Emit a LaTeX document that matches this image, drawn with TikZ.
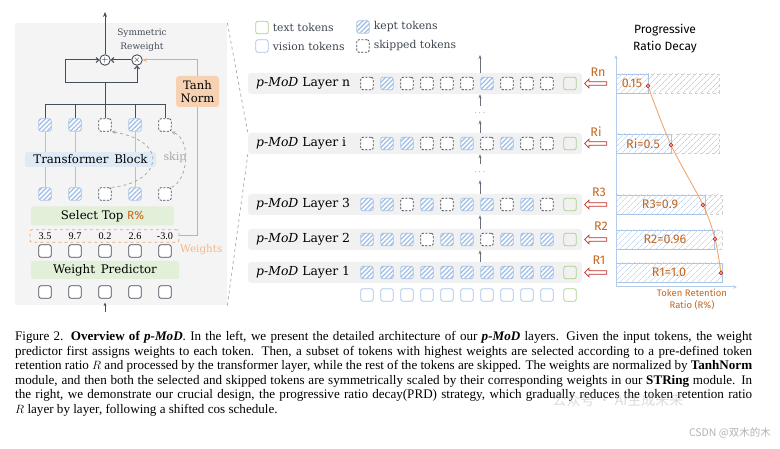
\documentclass[tikz,border=0pt]{standalone}
\usepackage{fontspec}
\setmainfont{Liberation Serif}
\newfontfamily\dfont{DejaVu Serif}
\newfontfamily\cfont{Fira Sans}
\newfontfamily\cjkfont{Noto Sans CJK SC}
\usetikzlibrary{arrows.meta,patterns.meta,shapes.arrows,calc}
\definecolor{panelbg}{HTML}{F4F4F4}
\definecolor{rowbg}{HTML}{F1F1F1}
\definecolor{dark}{HTML}{454C5A}
\definecolor{tokblue}{HTML}{A7C4E8}
\definecolor{hatchblue}{HTML}{9DBDE6}
\definecolor{hatchlight}{HTML}{C9DAF0}
\definecolor{tokgreen}{HTML}{A9D18E}
\definecolor{boxgreen}{HTML}{E2EFD9}
\definecolor{boxblue}{HTML}{DEEBF7}
\definecolor{tanhfill}{HTML}{F6D2B3}
\definecolor{orangeline}{HTML}{EFA66E}
\definecolor{orangelab}{HTML}{F2B98C}
\definecolor{orangetxt}{HTML}{C5661F}
\definecolor{redarr}{HTML}{C0302A}
\definecolor{grayhatch}{HTML}{CFCFCF}
\definecolor{skipgray}{HTML}{A8A8A8}
\definecolor{axisblue}{HTML}{B5CDEB}
\newcommand\tokrow[3]{%
  \foreach \t [count=\i] in {#3} {%
    \if\t k\node[tokk] (#1-\i) at ({347+20*\i},#2) {};%
    \else\if\t s\node[toks] (#1-\i) at ({347+20*\i},#2) {};%
    \else\node[tokv] (#1-\i) at ({347+20*\i},#2) {};\fi\fi}%
  \node[tokg] (#1-g) at (570,#2) {};}
\newcommand\capline[3]{\node[anchor=base west,inner sep=0,font=\fontsize{13.1}{14}\selectfont\rmfamily] (#1) at (15,#2) {#3};}
\begin{document}
\begin{tikzpicture}[x=1pt,y=-1pt,font=\dfont,
  tokbase/.style={minimum size=12.5pt,inner sep=0,rounded corners=2.2pt,line width=0.8pt},
  tokk/.style={tokbase,draw=tokblue,fill=white,postaction={pattern={Lines[angle=45,distance=3.3pt,line width=1.2pt]},pattern color=hatchblue}},
  toks/.style={tokbase,draw=dark,dash pattern=on 2.2pt off 1.4pt,fill=white},
  tokp/.style={tokbase,draw=dark,fill=white},
  tokv/.style={tokbase,draw=tokblue,fill=white},
  tokg/.style={tokbase,draw=tokgreen},
  rowbox/.style={fill=rowbg,rounded corners=3pt,minimum width=334pt,minimum height=21pt,inner sep=0},
  rowlab/.style={anchor=west,inner sep=0,font=\dfont\fontsize{12.4}{14}\selectfont,text=black},
  dline/.style={draw=dark,line width=1pt},
  barb/.style={-{Straight Barb[length=2.5pt,width=5pt]}},
  varr/.style={draw=dark!80,line width=0.7pt,-{Stealth[length=4pt,width=3pt]}},
  oline/.style={draw=orangeline,line width=1pt},
  skipl/.style={draw=skipgray,line width=0.8pt,dashed,-{Stealth[length=4pt,width=3.5pt]}},
  greenbox/.style={fill=boxgreen,rounded corners=2.5pt,inner sep=0},
  bbar/.style={draw=tokblue,line width=0.9pt,fill=white,postaction={pattern={Lines[angle=45,distance=4pt,line width=0.7pt]},pattern color=hatchlight}},
  gbar/.style={draw=grayhatch,line width=0.7pt,dashed,postaction={pattern={Lines[angle=45,distance=4pt,line width=0.7pt]},pattern color=grayhatch}},
  rlab/.style={text=orangetxt,font=\cfont\fontsize{12.5}{14}\selectfont,inner sep=0},
  harr/.style={single arrow,draw=redarr,fill=white,line width=0.8pt,shape border rotate=180,minimum height=22pt,inner sep=1.3pt,single arrow head extend=2.6pt},
  rdot/.style={circle,draw=redarr,fill=white,minimum size=3.6pt,inner sep=0,line width=0.9pt}]
\useasboundingbox (0,0) rectangle (780,449);
% ---------------- left panel ----------------
\node[fill=panelbg,minimum width=212pt,minimum height=282pt,inner sep=0,anchor=north west] (panel) at (15,23) {};
\node[circle,draw=dark,fill=white,line width=0.9pt,minimum size=10.5pt,inner sep=0,font=\fontsize{9}{9}\selectfont] (plus) at (105,60) {$+$};
\node[circle,draw=dark,fill=white,line width=0.9pt,minimum size=10.5pt,inner sep=0,font=\fontsize{9}{9}\selectfont] (times) at (137,60) {$\times$};
\coordinate (out) at (105,12);
\node[align=center,text=dark,font=\dfont\fontsize{9}{13.5}\selectfont] (symlab) at (142,40) {Symmetric\\Reweight};
\foreach \x/\s [count=\i] in {45/k,75/k,105/s,135/k,165/s}{
  \if\s k\node[tokk] (t\i) at (\x,125) {};\node[tokk] (m\i) at (\x,194) {};
  \else\node[toks] (t\i) at (\x,125) {};\node[toks] (m\i) at (\x,194) {};\fi
  \node[tokp] (p\i) at (\x,251) {};
  \node[tokp] (b\i) at (\x,292) {};}
% blue lines through transformer
\foreach \i in {1,2,4}{\draw[tokblue,line width=1pt] (t\i.south) -- (m\i.north);}
\node[fill=boxblue,rounded corners=2.5pt,inner sep=0,minimum width=131pt,minimum height=15pt,font=\dfont\fontsize{11.8}{12}\selectfont] (tb) at (90.5,159.5) {Transformer\, Block};
\node[text=skipgray,font=\dfont\fontsize{11}{12}\selectfont,inner sep=0] (skiplab) at (175,157) {skip};
\draw[skipl] (m3.north east) .. controls (160,183) and (172,142) .. (t3.south east);
\draw[skipl] (m5.north east) .. controls (188,180) and (192,140) .. (t5.south east);
% tree lines
\coordinate (bar) at (105,105);
\coordinate (split) at (105,83);
\coordinate (lc) at (65,83);
\draw[dline] (t1.north) -- (t1.north |- bar) -- (t5.north |- bar) -- (t5.north);
\foreach \i in {2,3,4}{\draw[dline] (t\i.north) -- (t\i.north |- bar);}
\draw[dline] (t3.north |- bar) -- (split);
\draw[dline,barb] (split) -- (lc) |- (plus.west);
\draw[dline,barb] (split) -| (times.south);
\draw[dline,barb] (times.west) -- (plus.east);
\draw[dline,-{Stealth[length=5pt,width=4pt]}] (plus.north) -- (out);
% select top, weights, predictor
\node[greenbox,minimum width=143pt,minimum height=19pt,font=\dfont\fontsize{11.8}{12}\selectfont] (sel) at (102.5,216) {Select Top {\cfont\color{orangetxt}R\%}};
\node[draw=orangeline,dashed,line width=0.8pt,rounded corners=2pt,minimum width=149pt,minimum height=12.5pt,inner sep=0] (wbox) at (104.5,236) {};
\foreach \x/\v [count=\i] in {45/3.5,75/9.7,105/0.2,135/2.6,165/-3.0}{
  \node[font=\rmfamily\fontsize{10.2}{10}\selectfont,inner sep=0] (w\i) at (\x,236) {\v};}
\node[anchor=west,text=orangelab,font=\dfont\fontsize{10.4}{11}\selectfont,inner sep=0] (wlab) at (180,249.5) {Weights};
\node[greenbox,minimum width=148pt,minimum height=18pt,font=\dfont\fontsize{11.8}{12}\selectfont] (wp) at (105,270) {Weight\, Predictor};
\coordinate (inp) at (105,312);
\draw[draw=dark,line width=0.8pt,-{Stealth[length=3.5pt,width=3pt]}] (inp) -- ($(b3.south)+(0,4)$);
% tanh norm
\node[fill=tanhfill,rounded corners=3pt,minimum width=43pt,minimum height=31pt,inner sep=0,align=center,font=\dfont\fontsize{11.6}{13}\selectfont] (tanh) at (197.5,91.5) {Tanh\\Norm};
\draw[oline] (wbox.east) -| (tanh.south);
\draw[oline,-{Stealth[length=4pt,width=3.5pt]}] (tanh.north) |- (times.east);
% ---------------- middle panel ----------------
\node[tokg] (lg1) at (262,27.5) {};
\node[tokv] (lg2) at (262,46) {};
\node[tokk] (lg3) at (363,27) {};
\node[toks] (lg4) at (363,46) {};
\foreach \n/\s/\txt in {lg1/1/text tokens,lg2/2/vision tokens,lg3/3/kept tokens,lg4/4/skipped tokens}{
  \node[anchor=west,inner sep=0,text=dark!90!black,font=\dfont\fontsize{10.8}{11}\selectfont] (lt\s) at ($(\n.east)+(4,0)$) {\txt};}
\node[rowbox] (Rn) at (415,83.5) {};
\node[rowbox] (Ri) at (415,143.5) {};
\node[rowbox] (R3) at (415,204.5) {};
\node[rowbox] (R2) at (415,239.5) {};
\node[rowbox] (R1) at (415,272.5) {};
\node[rowlab] (Ln) at (256,83.5) {\textit{p-MoD} Layer n};
\node[rowlab] (Li) at (256,143.5) {\textit{p-MoD} Layer i};
\node[rowlab] (L3) at (256,204.5) {\textit{p-MoD} Layer 3};
\node[rowlab] (L2) at (256,239.5) {\textit{p-MoD} Layer 2};
\node[rowlab] (L1) at (256,272.5) {\textit{p-MoD} Layer 1};
\tokrow{n}{83.5}{s,k,s,s,s,s,k,s,s,s}
\tokrow{i}{143.5}{s,k,k,s,s,k,s,k,s,s}
\tokrow{c}{204.5}{k,k,s,k,s,k,k,s,k,s}
\tokrow{b}{239.5}{k,k,k,s,k,k,s,k,k,k}
\tokrow{a}{272.5}{k,k,k,k,k,k,k,k,k,k}
\tokrow{z}{295}{v,v,v,v,v,v,v,v,v,v}
\coordinate (ax) at (480,0);
\coordinate (topout) at (480,55);
\node[inner sep=0,minimum height=14pt,font=\fontsize{9}{9}\selectfont,text=dark] (dots1) at (480,113) {$\cdots$};
\node[inner sep=0,minimum height=16pt,font=\fontsize{9}{9}\selectfont,text=dark] (dots2) at (480,172) {$\cdots$};
\draw[varr] (Rn.north -| ax) -- (topout);
\draw[varr] (dots1.north) -- (Rn.south -| ax);
\draw[varr] (Ri.north -| ax) -- (dots1.south);
\draw[varr] (dots2.north) -- (Ri.south -| ax);
\draw[varr] (R3.north -| ax) -- (dots2.south);
\draw[varr] (R2.north -| ax) -- (R3.south -| ax);
\draw[varr] (R1.north -| ax) -- (R2.south -| ax);
% dashed zoom lines
\draw[draw=skipgray,dashed,line width=0.7pt] (panel.north east) -- (Ri.north west);
\draw[draw=skipgray,dashed,line width=0.7pt] (panel.south east) -- (Ri.south west);
% ---------------- right panel ----------------
\node[align=center,font=\cfont\fontsize{12}{17}\selectfont] (title) at (665,38.5) {Progressive\\Ratio Decay};
\node[harr] (hn) at (596.5,83.5) {};
\node[harr] (hi) at (596.5,143.5) {};
\node[harr] (h3) at (596.5,204.5) {};
\node[harr] (h2) at (596.5,239.5) {};
\node[harr] (h1) at (596.5,272.5) {};
\node[rlab] (rln) at (598,72) {Rn};
\node[rlab] (rli) at (596,132) {Ri};
\node[rlab] (rl3) at (599,192) {R3};
\node[rlab] (rl2) at (601,226) {R2};
\node[rlab] (rl1) at (599,260) {R1};
\draw[gbar] (648,74) rectangle (719,93);
\draw[gbar] (671,134) rectangle (719,153);
\draw[gbar] (705,195) rectangle (722,214);
\draw[gbar] (714,230) rectangle (722,249);
\draw[bbar] (616,74) rectangle (648,93);
\draw[bbar] (616,134) rectangle (671,153);
\draw[bbar] (616,195) rectangle (705,214);
\draw[bbar] (616,230) rectangle (714,249);
\draw[bbar] (616,263) rectangle (722,282);
\draw[draw=axisblue,line width=1pt,-{Stealth[length=4pt,width=3.5pt]}] (616,287) -- (616,55);
\draw[draw=axisblue,line width=1pt,-{Stealth[length=4pt,width=3.5pt]}] (616,287) -- (737,287);
\node[rlab] (vn) at (632,83.5) {0.15};
\node[rlab] (vi) at (643,143.5) {Ri=0.5};
\node[rlab] (v3) at (660,204.5) {R3=0.9};
\node[rlab] (v2) at (665,239.5) {R2=0.96};
\node[rlab] (v1) at (669,272.5) {R1=1.0};
\draw[orangeline,line width=0.9pt] plot[smooth,tension=0.55] coordinates {(648,86) (671,145) (703,205) (715,239) (721,273)};
\node[rdot] (dn) at (648,86) {};
\node[rdot] (di) at (671,145) {};
\node[rdot] (d3) at (703,205) {};
\node[rdot] (d2) at (715,239) {};
\node[rdot] (d1) at (721,273) {};
\node[align=center,text=orangetxt,font=\cfont\fontsize{9.5}{12}\selectfont] (axlab) at (692,299) {Token Retention\\Ratio (R\%)};
% ---------------- caption ----------------
\capline{c1}{341}{\makebox[737pt][s]{Figure 2. \textbf{Overview of \textit{p-MoD}}. In the left, we present the detailed architecture of our \textbf{\textit{p-MoD}} layers. Given the input tokens, the weight}}
\capline{c2}{355.5}{\makebox[737pt][s]{predictor first assigns weights to each token. Then, a subset of tokens with highest weights are selected according to a pre-defined token}}
\capline{c3}{370}{\makebox[737pt][s]{retention ratio $R$ and processed by the transformer layer, while the rest of the tokens are skipped. The weights are normalized by \textbf{TanhNorm}}}
\capline{c4}{384.5}{\makebox[737pt][s]{module, and then both the selected and skipped tokens are symmetrically scaled by their corresponding weights in our \textbf{STRing} module. In}}
\capline{c5}{399}{\makebox[737pt][s]{the right, we demonstrate our crucial design, the progressive ratio decay(PRD) strategy, which gradually reduces the token retention ratio}}
\capline{c6}{413.5}{$R$ layer by layer, following a shifted cos schedule.}
\node[text=black!35,opacity=0.4,font=\cjkfont\fontsize{14}{14}\selectfont,inner sep=0] (wm1) at (618,400) {公众号 · AI生成未来};
\node[text=black!30,font=\cjkfont\fontsize{10.5}{10}\selectfont,inner sep=0,anchor=east] (wm2) at (771,433) {CSDN @双木的木};
\end{tikzpicture}
\end{document}
